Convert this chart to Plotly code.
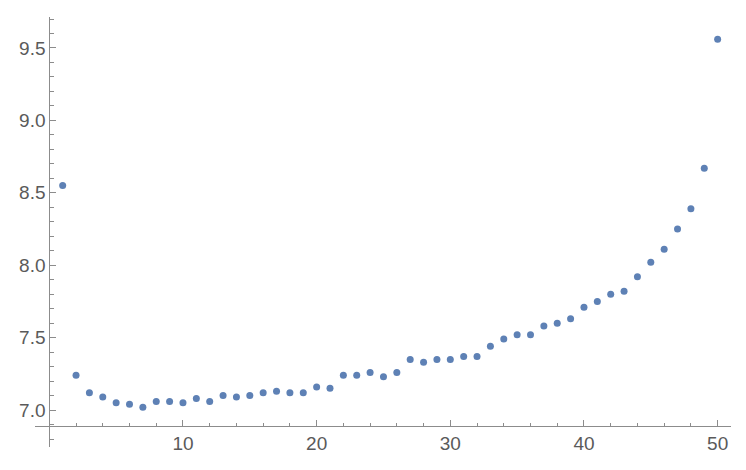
import plotly.graph_objects as go

# index of each point
n = list(range(1, 51))

# values
values = [
    8.55, 7.24, 7.12, 7.09, 7.05, 7.04, 7.02, 7.06, 7.06, 7.05,
    7.08, 7.06, 7.10, 7.09, 7.10, 7.12, 7.13, 7.12, 7.12, 7.16,
    7.15, 7.24, 7.24, 7.26, 7.23, 7.26, 7.35, 7.33, 7.35, 7.35,
    7.37, 7.37, 7.44, 7.49, 7.52, 7.52, 7.58, 7.60, 7.63, 7.71,
    7.75, 7.80, 7.82, 7.92, 8.02, 8.11, 8.25, 8.39, 8.67, 9.56,
]

x_ticks = [10, 20, 30, 40, 50]
y_ticks = [7.0, 7.5, 8.0, 8.5, 9.0, 9.5]

x_range = [-1.07, 51.0]
y_range = [6.745, 9.714]
# where the axes cross (Mathematica style)
x_origin = 0
y_origin = 6.8895

line_col = "#8c8c8c"
label_col = "#5a5a5a"

fig = go.Figure()
fig.add_trace(go.Scatter(
    x=n, y=values, mode="markers",
    marker=dict(color="#5e81b5", size=7, line=dict(width=0)),
    hoverinfo="x+y",
))

fig.update_layout(
    width=746, height=470,
    margin=dict(l=35, r=15, t=17, b=23, autoexpand=False),
    paper_bgcolor="white", plot_bgcolor="white",
    showlegend=False,
    font=dict(family="Liberation Sans, Arial, sans-serif", size=19, color=label_col),
)

fig.update_xaxes(
    range=x_range, showgrid=False, zeroline=False, automargin=False,
    showline=True, linecolor=line_col, linewidth=1,
    anchor="free",
    position=(y_origin - y_range[0]) / (y_range[1] - y_range[0]),
    tickmode="array", tickvals=x_ticks,
    ticks="inside", ticklen=6, tickcolor=line_col, tickwidth=1,
    minor=dict(tickmode="linear", tick0=0, dtick=2, ticks="inside",
               ticklen=3.5, tickcolor=line_col, tickwidth=1),
    tickfont=dict(size=19, color=label_col),
)

fig.update_yaxes(
    range=y_range, showgrid=False, zeroline=False, automargin=False,
    showline=True, linecolor=line_col, linewidth=1,
    anchor="free",
    position=(x_origin - x_range[0]) / (x_range[1] - x_range[0]),
    tickmode="array", tickvals=y_ticks, tickformat=".1f",
    ticks="inside", ticklen=6, tickcolor=line_col, tickwidth=1,
    minor=dict(tickmode="linear", tick0=0, dtick=0.1, ticks="inside",
               ticklen=3.5, tickcolor=line_col, tickwidth=1),
    tickfont=dict(size=19, color=label_col),
)

# drop the browser's default page margin so the chart sits at 0,0
fig.write_html("out.html", config={"displayModeBar": False},
               post_script="document.body.style.margin='0';")
